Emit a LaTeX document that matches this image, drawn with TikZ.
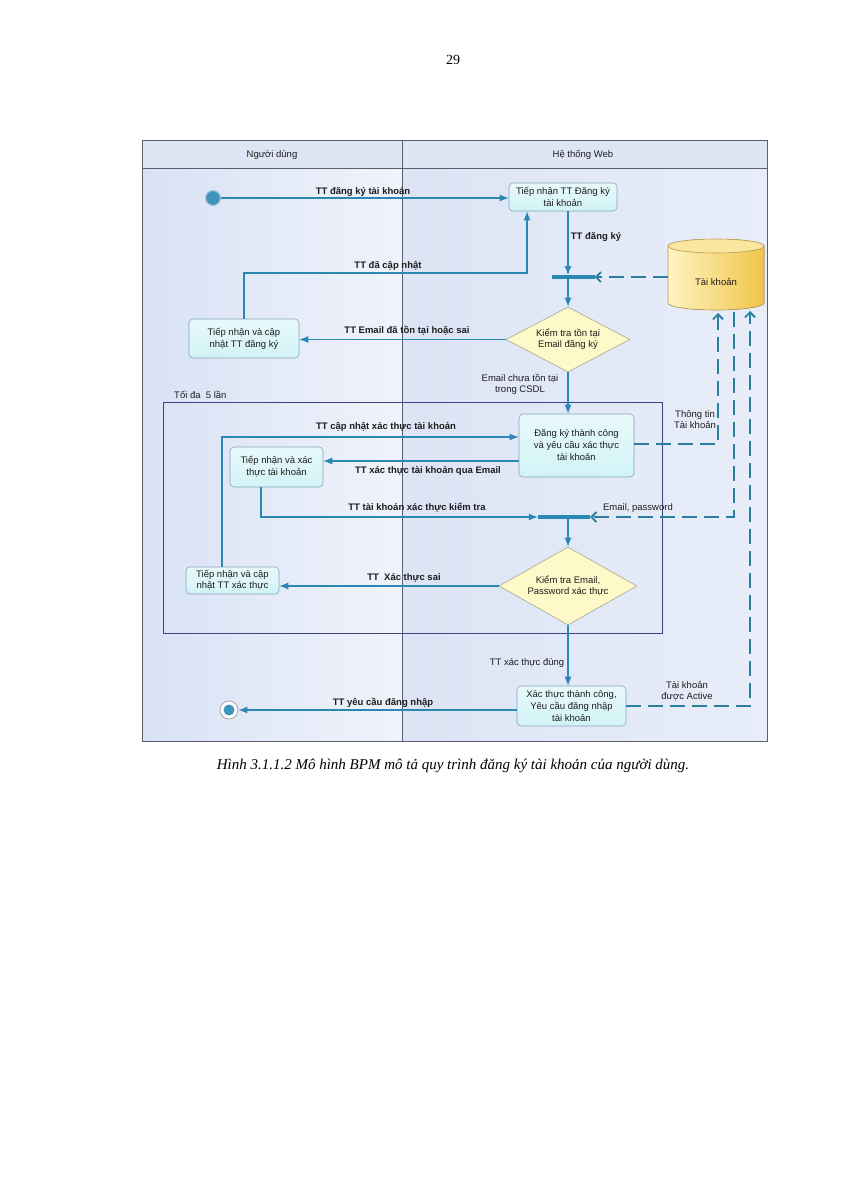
\documentclass[tikz,border=0pt]{standalone}
\usepackage{fontspec}
\setmainfont{Liberation Sans}
\newfontfamily\serifff{Liberation Serif}
\usetikzlibrary{arrows.meta,shapes.geometric}
\definecolor{flowc}{HTML}{2A88B2}
\definecolor{dashc}{HTML}{2B7E9E}
\definecolor{lanec}{HTML}{5A5F6E}
\definecolor{loopc}{HTML}{3B4380}
\definecolor{boxb}{HTML}{86A4B8}
\definecolor{boxf}{HTML}{D2F3F7}
\definecolor{diaf}{HTML}{FDF9C8}
\definecolor{diab}{HTML}{A8A890}
\definecolor{bgl}{HTML}{D8E2F5}
\definecolor{bgr}{HTML}{F0F3FB}
\definecolor{bgrl}{HTML}{DCE4F5}
\definecolor{bgrr}{HTML}{E8EDF9}
\definecolor{headf}{HTML}{DEE6F5}
\definecolor{txt}{HTML}{1E1E1E}
\definecolor{cyl1}{HTML}{FFF4C4}
\definecolor{cyl2}{HTML}{F0C448}
\definecolor{cylb}{HTML}{B89A50}
\begin{document}
\begin{tikzpicture}[x=1pt,y=-1pt,
  font=\fontsize{9.5}{12}\selectfont,
  box/.style={draw=boxb, rounded corners=4pt, top color=white!50!boxf, bottom color=boxf, align=center, inner sep=1pt, line width=0.6pt, text=txt},
  dia/.style={diamond, draw=diab, fill=diaf, inner sep=0pt, line width=0.6pt},
  flow/.style={draw=flowc, line width=1.1pt, -{Latex[length=9pt,width=7pt]}},
  dflow/.style={draw=dashc, line width=1.8pt, dash pattern=on 15pt off 7pt, -{Straight Barb[length=5pt,width=10pt]}},
  lbl/.style={font=\fontsize{9.5}{11}\selectfont\bfseries, text=txt, inner sep=1pt},
  lblr/.style={font=\fontsize{9.5}{11}\selectfont, text=txt, inner sep=1pt, align=center},
  bar/.style={fill=flowc, draw=none, minimum height=3.5pt, inner sep=0pt},
]
\useasboundingbox (0,0) rectangle (848,1200);
\fill[white] (0,0) rectangle (848,1200);
% lanes
\shade[left color=bgl, right color=bgr] (142,168) rectangle (402,741);
\shade[left color=bgrl, right color=bgrr] (402,168) rectangle (767,741);
\fill[headf] (142,140) rectangle (767,168);
\draw[lanec, line width=1pt] (142,140) rectangle (767,741);
\draw[lanec, line width=1pt] (142,168) -- (767,168);
\draw[lanec, line width=1pt] (402,140) -- (402,741);
\node[lblr] (h1) at (272,155) {Người dùng};
\node[lblr] (h2) at (583,155) {Hệ thống Web};
% loop frame
\draw[loopc, line width=1pt] (163,402) rectangle (662,633);
\node[lblr, anchor=west] (loopl) at (173,395) {Tối đa\ \ 5 lần};
% cylinder
\fill[left color=cyl1, right color=cyl2] (668,246) -- (668,303) arc[start angle=180,end angle=0,x radius=48,y radius=7] -- (764,246) arc[start angle=0,end angle=-180,x radius=48,y radius=7] -- cycle;
\draw[cylb, line width=0.6pt] (668,246) -- (668,303) arc[start angle=180,end angle=0,x radius=48,y radius=7] -- (764,246);
\draw[cylb, line width=0.6pt, fill=cyl1!70!cyl2] (716,246) ellipse[x radius=48, y radius=7];
\node[lblr] (cyl) at (716,282) {Tài khoản};
\coordinate (cylL) at (668,277);
\coordinate (cb1) at (718,313);
\coordinate (cb2) at (734,312);
\coordinate (cb3) at (750,311);
\coordinate (spine) at (568,0);
% nodes
\node[circle, fill=flowc!90, minimum size=15pt, inner sep=0pt, draw=flowc!45, line width=1.2pt] (s0) at (213,198) {};
\node[box, minimum width=108, minimum height=28] (b1) at (563,197) {Tiếp nhận TT Đăng ký\\tài khoản};
\node[bar, minimum width=43] (f1) at (573,277) {};
\node[dia, minimum width=124, minimum height=65] (d1) at (568,339.5) {};
\node[lblr] (d1t) at (d1) {Kiểm tra tồn tại\\Email đăng ký};
\node[box, minimum width=110, minimum height=39] (b2) at (244,338.5) {Tiếp nhận và cập\\nhật TT đăng ký};
\node[box, minimum width=115, minimum height=63] (b3) at (576.5,445.5) {Đăng ký thành công\\và yêu cầu xác thực\\tài khoản};
\node[box, minimum width=93, minimum height=40] (b4) at (276.5,467) {Tiếp nhận và xác\\thực tài khoản};
\node[bar, minimum width=52] (f2) at (564,517) {};
\node[dia, minimum width=138, minimum height=78] (d2) at (568,586) {};
\node[lblr] (d2t) at (d2) {Kiểm tra Email,\\Password xác thực};
\node[box, minimum width=93, minimum height=27, font=\fontsize{9.5}{11}\selectfont] (b5) at (232.5,580.5) {Tiếp nhận và cập\\nhật TT xác thực};
\node[box, minimum width=109, minimum height=40] (b6) at (571.5,706) {Xác thực thành công,\\Yêu cầu đăng nhập\\tài khoản};
\node[circle, draw=gray!70, fill=white, minimum size=18pt, inner sep=0pt, line width=0.8pt] (e0) at (229,710) {};
\node[circle, fill=flowc!90, minimum size=11pt, inner sep=0pt] (e0in) at (e0) {};
% connectors
\draw[flow] (s0) -- (b1.west |- s0);
\node[lbl] (l1) at (363,192) {TT đăng ký tài khoản};
\coordinate (c1) at (527,273);
\draw[flow] (b2.north) |- (c1) -- (c1 |- b1.south);
\node[lbl] (l2) at (388,266) {TT đã cập nhật};
\draw[flow] (b1.south -| spine) -- (f1.north -| spine);
\node[lbl] (l3) at (596,237) {TT đăng ký};
\draw[dflow] (cylL) -- (f1.east);
\draw[flow] (f1.south -| spine) -- (d1.north);
\draw[flow] (d1.west) -- (d1.west -| b2.east);
\node[lbl] (l4) at (407,331) {TT Email đã tồn tại hoặc sai};
\draw[flow] (d1.south) -- (b3.north -| spine);
\node[lblr] (l5) at (520,384) {Email chưa tồn tại\\trong CSDL};
\coordinate (c2) at (222,437);
\draw[flow] (b5.north -| c2) -- (c2) -- (c2 -| b3.west);
\node[lbl] (l6) at (386,427) {TT cập nhật xác thực tài khoản};
\coordinate (c3) at (0,461);
\draw[flow] (b3.west |- c3) -- (b4.east |- c3);
\node[lbl] (l7) at (428,471) {TT xác thực tài khoản qua Email};
\coordinate (c4) at (261,517);
\draw[flow] (b4.south -| c4) -- (c4) -- (f2.west);
\node[lbl] (l8) at (417,508) {TT tài khoản xác thực kiểm tra};
\draw[dflow] (cb2) -- (cb2 |- f2.east) -- (f2.east);
\node[lblr] (l9) at (638,508) {Email, password};
\draw[flow] (f2.south -| spine) -- (d2.north);
\draw[flow] (d2.west) -- (d2.west -| b5.east);
\node[lbl] (l10) at (404,578) {TT\ \ Xác thực sai};
\draw[flow] (d2.south) -- (b6.north -| spine);
\node[lblr] (l11) at (527,663) {TT xác thực đúng};
\draw[flow] (b6.west |- e0) -- (e0);
\node[lbl] (l12) at (383,703) {TT yêu cầu đăng nhập};
\coordinate (c5) at (0,444);
\draw[dflow] (b3.east |- c5) -- (cb1 |- c5) -- (cb1);
\node[lblr] (l13) at (695,420) {Thông tin\\Tài khoản};
\draw[dflow] (b6.east) -- (b6.east -| cb3) -- (cb3);
\node[lblr] (l14) at (687,691) {Tài khoản\\được Active};
% page texts
\node[font=\serifff\fontsize{14}{16}\selectfont] (pg) at (453,60) {29};
\node[font=\serifff\itshape\fontsize{15}{18}\selectfont] (cap) at (453,766) {Hình 3.1.1.2 Mô hình BPM mô tả quy trình đăng ký tài khoản của người dùng.};
\end{tikzpicture}
\end{document}
